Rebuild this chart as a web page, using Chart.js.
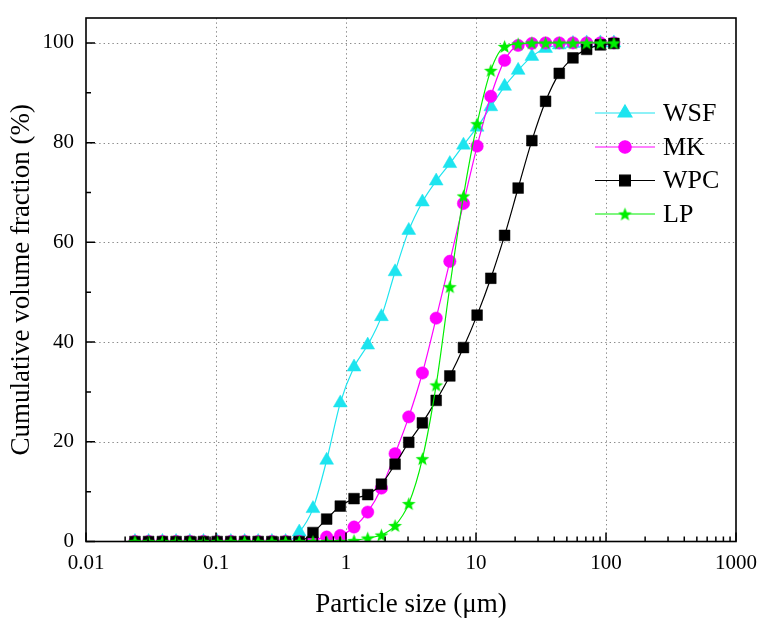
<!DOCTYPE html>
<html><head><meta charset="utf-8">
<script src="https://cdn.jsdelivr.net/npm/chart.js@4.4.0/dist/chart.umd.min.js"></script>
<style>html,body{margin:0;padding:0;background:#fff;}canvas{display:block;}</style>
</head><body>
<canvas id="c" width="774" height="628"></canvas>
<script>
// ---- data ----
const particleSize = [0.0238, 0.0303, 0.0387, 0.0493, 0.0629, 0.0801, 0.102, 0.130, 0.166, 0.211, 0.269, 0.343,
  0.437, 0.557, 0.710, 0.904, 1.153, 1.469, 1.872, 2.385, 3.04, 3.87, 4.94, 6.29,
  8.01, 10.2, 13.0, 16.6, 21.1, 26.9, 34.3, 43.7, 55.7, 71.0, 90.5, 115];
const wsf = [0, 0, 0, 0, 0, 0, 0, 0, 0, 0, 0, 0,
  1.9, 6.6, 16.3, 27.8, 35.0, 39.4, 45.1, 54.1, 62.4, 68.1, 72.3, 75.8,
  79.5, 83.1, 87.2, 91.3, 94.5, 97.3, 98.9, 99.6, 99.9, 100, 100, 100];
const mk = [0, 0, 0, 0, 0, 0, 0, 0, 0, 0, 0, 0,
  0, 0.3, 0.9, 1.2, 2.9, 5.9, 10.7, 17.6, 25.0, 33.8, 44.8, 56.2,
  67.8, 79.3, 89.3, 96.5, 99.5, 99.9, 100, 100, 100, 100, 100, 100];
const wpc = [0, 0, 0, 0, 0, 0, 0, 0, 0, 0, 0, 0,
  0, 1.8, 4.5, 7.1, 8.6, 9.4, 11.5, 15.5, 19.9, 23.8, 28.3, 33.2,
  38.9, 45.4, 52.8, 61.4, 70.9, 80.4, 88.3, 93.9, 97.0, 98.7, 99.6, 99.9];
const lp = [0, 0, 0, 0, 0, 0, 0, 0, 0, 0, 0, 0,
  0, 0, 0, 0, 0.2, 0.7, 1.3, 3.2, 7.6, 16.6, 31.4, 51.1,
  69.3, 83.8, 94.5, 99.3, 99.8, 100, 100, 100, 100, 100, 100, 100];
const seriesNames = ['WSF', 'MK', 'WPC', 'LP'];
const xTicks = [0.01, 0.1, 1, 10, 100, 1000];
const xTickLabels = ['0.01', '0.1', '1', '10', '100', '1000'];
const yTicks = [0, 20, 40, 60, 80, 100];
const yMinorTicks = [10, 30, 50, 70, 90];

// ---- styling ----
const FONT = "'Liberation Serif', 'Times New Roman', serif";
Chart.defaults.font.family = FONT;
Chart.defaults.color = '#000';

function starPath(g, cx, cy, R, r) {
  g.beginPath();
  for (let k = 0; k < 10; k++) {
    const rad = k % 2 === 0 ? R : r;
    const a = -Math.PI / 2 + k * Math.PI / 5;
    const px = cx + rad * Math.cos(a), py = cy + rad * Math.sin(a);
    if (k === 0) g.moveTo(px, py); else g.lineTo(px, py);
  }
  g.closePath();
}
function makeStar(size, color) {
  const c = document.createElement('canvas');
  c.width = size; c.height = size;
  const g = c.getContext('2d');
  const R = size / 2 - 0.3;
  starPath(g, size / 2, size / 2 + 0.8, R, R * 0.42);
  g.fillStyle = color; g.fill();
  return c;
}
const starImg = makeStar(15, '#00ee00');

const colors = ['#1de4ef', '#ff00ff', '#000000', '#00ee00'];
const styles = [
  { pointStyle: 'triangle', pointRadius: 8 },
  { pointStyle: 'circle', pointRadius: 6.2 },
  { pointStyle: 'rect', pointRadius: 7.6 },
  { pointStyle: starImg, pointRadius: 7.5 }
];
const values = [wsf, mk, wpc, lp];

const datasets = values.map((arr, i) => ({
  label: seriesNames[i],
  data: particleSize.map((x, j) => ({ x: x, y: arr[j] })),
  borderColor: colors[i],
  backgroundColor: colors[i],
  pointBackgroundColor: colors[i],
  pointBorderColor: colors[i],
  pointBorderWidth: 0.5,
  borderWidth: 1.2,
  cubicInterpolationMode: 'monotone',
  pointStyle: styles[i].pointStyle,
  pointRadius: styles[i].pointRadius,
  order: 4 - i
}));

const decor = {
  id: 'decor',
  beforeDatasetsDraw(chart) {
    const { ctx, chartArea: a, scales: { x, y } } = chart;
    ctx.save();
    ctx.strokeStyle = '#8a8a8a';
    ctx.lineWidth = 1;
    ctx.setLineDash([1.4, 3]);
    ctx.beginPath();
    xTicks.forEach(v => {
      const px = Math.round(x.getPixelForValue(v)) + 0.5;
      if (px <= a.left + 2 || px >= a.right - 2) return;
      ctx.moveTo(px, a.top); ctx.lineTo(px, a.bottom);
    });
    yTicks.forEach(v => {
      const py = Math.round(y.getPixelForValue(v)) + 0.5;
      if (py >= a.bottom - 2 || py <= a.top + 2) return;
      ctx.moveTo(a.left, py); ctx.lineTo(a.right, py);
    });
    ctx.stroke();
    ctx.restore();
  },
  afterDatasetsDraw(chart) {
    const { ctx, chartArea: a, scales: { x, y } } = chart;
    ctx.save();
    ctx.strokeStyle = '#000';
    ctx.lineWidth = 1.5;
    ctx.beginPath();
    for (let e = -2; e < 3; e++) {
      for (let m = 2; m < 10; m++) {
        const px = x.getPixelForValue(m * Math.pow(10, e));
        ctx.moveTo(px, a.bottom); ctx.lineTo(px, a.bottom - 5);
      }
    }
    xTicks.forEach(v => { const px = x.getPixelForValue(v); ctx.moveTo(px, a.bottom); ctx.lineTo(px, a.bottom - 9); });
    yTicks.forEach(v => { const py = y.getPixelForValue(v); ctx.moveTo(a.left, py); ctx.lineTo(a.left + 9, py); });
    yMinorTicks.forEach(v => { const py = y.getPixelForValue(v); ctx.moveTo(a.left, py); ctx.lineTo(a.left + 5, py); });
    ctx.stroke();
    ctx.lineWidth = 1.6;
    ctx.strokeRect(a.left, a.top, a.width, a.height);

    // legend
    const ly = [113, 147, 180.5, 214];
    chart.data.datasets.forEach((ds, i) => {
      const yy = ly[i];
      ctx.strokeStyle = ds.borderColor;
      ctx.lineWidth = 1.2;
      ctx.beginPath(); ctx.moveTo(595, yy); ctx.lineTo(655, yy); ctx.stroke();
      ctx.fillStyle = ds.pointBackgroundColor;
      ctx.strokeStyle = ds.pointBorderColor;
      Chart.helpers.drawPoint(ctx, { pointStyle: ds.pointStyle, radius: ds.pointRadius, rotation: 0, borderWidth: 0.5 }, 625, yy);
      ctx.fillStyle = '#000';
      ctx.font = "26px " + FONT;
      ctx.textAlign = 'left';
      ctx.textBaseline = 'middle';
      ctx.fillText(ds.label, 663, yy + 1);
    });
    ctx.restore();
  }
};

new Chart(document.getElementById('c'), {
  type: 'line',
  data: { datasets: datasets },
  options: {
    responsive: false,
    animation: false,
    layout: { padding: { left: 0, right: 38, top: 18, bottom: 0 } },
    plugins: { legend: { display: false }, tooltip: { enabled: false } },
    scales: {
      x: {
        type: 'logarithmic',
        min: 0.01, max: 1000,
        afterBuildTicks: s => { s.ticks = xTicks.map(v => ({ value: v })); },
        afterFit: s => { s.height = 86.5; },
        grid: { display: false, drawTicks: false },
        border: { display: false },
        ticks: {
          autoSkip: false, maxRotation: 0, padding: 9,
          font: { size: 21 },
          callback: (v) => { const k = xTicks.indexOf(v); return k >= 0 ? xTickLabels[k] : ''; }
        },
        title: { display: true, text: 'Particle size (μm)', font: { size: 27 }, padding: { top: 0, bottom: 7 } }
      },
      y: {
        type: 'linear',
        min: 0, max: 105,
        afterBuildTicks: s => { s.ticks = yTicks.map(v => ({ value: v })); },
        afterFit: s => { s.width = 86; },
        grid: { display: false, drawTicks: false },
        border: { display: false },
        ticks: { padding: 12, font: { size: 21, lineHeight: 0.4 } },
        title: { display: true, text: 'Cumulative volume fraction (%)', font: { size: 27 }, padding: { top: 6, bottom: 0 } }
      }
    }
  },
  plugins: [decor]
});
</script>
</body></html>
